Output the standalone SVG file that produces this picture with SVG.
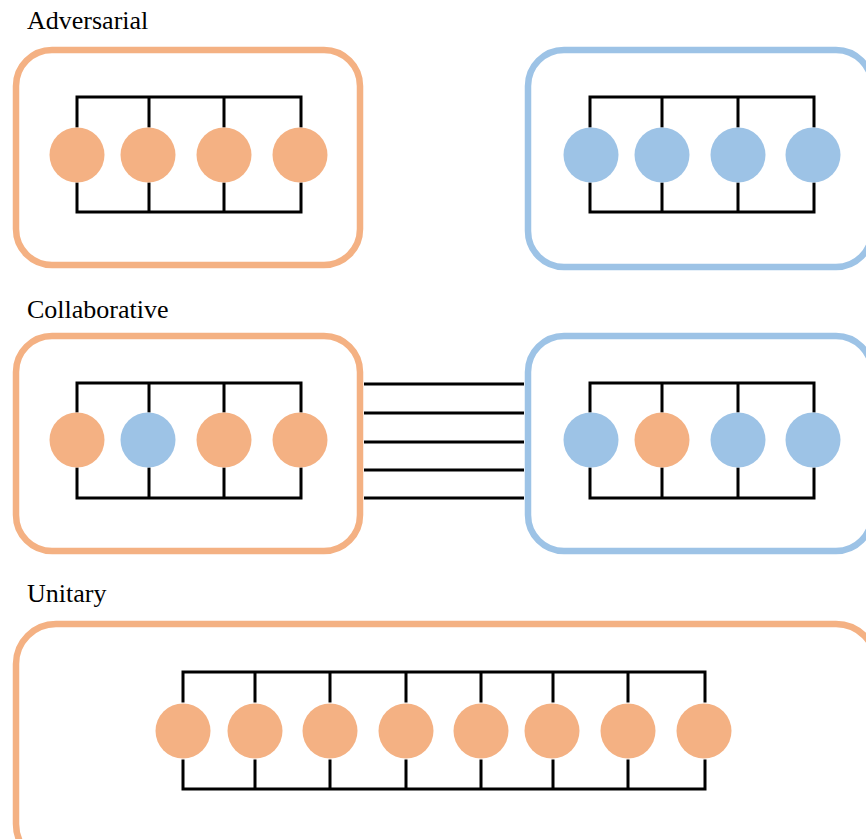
<svg xmlns="http://www.w3.org/2000/svg" width="866" height="839" viewBox="0 0 866 839">
<style>
.lbl{font-family:"Liberation Serif","Times New Roman",serif;font-size:26px;fill:#000}
.bo{fill:none;stroke:#F4B183;stroke-width:6.5}
.bb{fill:none;stroke:#9DC3E6;stroke-width:6.5}
.o{fill:#F4B183}
.b{fill:#9DC3E6}
.w{fill:none;stroke:#000;stroke-width:3;stroke-linecap:square}
</style>
<rect width="866" height="839" fill="#fff"/>
<text class="lbl" x="27" y="29">Adversarial</text>
<text class="lbl" x="27" y="318">Collaborative</text>
<text class="lbl" x="27" y="602">Unitary</text>

<g id="connectors">
  <path class="w" d="M77 97H301M77 97V126M149 97V126M224 97V126M301 97V126M77 212H301M77 212V184M149 212V184M224 212V184M301 212V184"/>
  <path class="w" d="M590 97H814M590 97V126M662 97V126M738 97V126M814 97V126M590 212H814M590 212V184M662 212V184M738 212V184M814 212V184"/>
  <path class="w" d="M77 383H301M77 383V411M149 383V411M224 383V411M301 383V411M77 498H301M77 498V469M149 498V469M224 498V469M301 498V469"/>
  <path class="w" d="M590 383H814M590 383V411M662 383V411M738 383V411M814 383V411M590 498H814M590 498V469M662 498V469M738 498V469M814 498V469"/>
  <path class="w" d="M364 384H524M364 413H524M364 442H524M364 470H524M364 498H524" style="stroke-linecap:butt"/>
  <path class="w" d="M183 672H705M183 672V701M255 672V701M330 672V701M406 672V701M481 672V701M553 672V701M628 672V701M705 672V701M183 789H705M183 789V761M255 789V761M330 789V761M406 789V761M481 789V761M553 789V761M628 789V761M705 789V761"/>
</g>

<g id="adv-left">
  <rect class="bo" x="16" y="50" width="344" height="215" rx="36"/>
  <circle id="al1" class="o" cx="77" cy="155" r="27.5"/>
  <circle id="al2" class="o" cx="148" cy="155" r="27.5"/>
  <circle id="al3" class="o" cx="224" cy="155" r="27.5"/>
  <circle id="al4" class="o" cx="300" cy="155" r="27.5"/>
</g>
<g id="adv-right">
  <rect class="bb" x="528" y="50" width="344" height="217" rx="36"/>
  <circle id="ar1" class="b" cx="591" cy="155" r="27.5"/>
  <circle id="ar2" class="b" cx="662" cy="155" r="27.5"/>
  <circle id="ar3" class="b" cx="738" cy="155" r="27.5"/>
  <circle id="ar4" class="b" cx="813" cy="155" r="27.5"/>
</g>
<g id="col-left">
  <rect class="bo" x="16" y="336" width="344" height="215" rx="36"/>
  <circle id="cl1" class="o" cx="77" cy="440" r="27.5"/>
  <circle id="cl2" class="b" cx="148" cy="440" r="27.5"/>
  <circle id="cl3" class="o" cx="224" cy="440" r="27.5"/>
  <circle id="cl4" class="o" cx="300" cy="440" r="27.5"/>
</g>
<g id="col-right">
  <rect class="bb" x="528" y="336" width="344" height="215" rx="36"/>
  <circle id="cr1" class="b" cx="591" cy="440" r="27.5"/>
  <circle id="cr2" class="o" cx="662" cy="440" r="27.5"/>
  <circle id="cr3" class="b" cx="738" cy="440" r="27.5"/>
  <circle id="cr4" class="b" cx="813" cy="440" r="27.5"/>
</g>
<g id="unitary">
  <rect class="bo" x="16" y="624" width="860" height="240" rx="40"/>
  <circle id="u1" class="o" cx="183" cy="731" r="27.5"/>
  <circle id="u2" class="o" cx="255" cy="731" r="27.5"/>
  <circle id="u3" class="o" cx="330" cy="731" r="27.5"/>
  <circle id="u4" class="o" cx="406" cy="731" r="27.5"/>
  <circle id="u5" class="o" cx="481" cy="731" r="27.5"/>
  <circle id="u6" class="o" cx="552" cy="731" r="27.5"/>
  <circle id="u7" class="o" cx="628" cy="731" r="27.5"/>
  <circle id="u8" class="o" cx="704" cy="731" r="27.5"/>
</g>
</svg>
